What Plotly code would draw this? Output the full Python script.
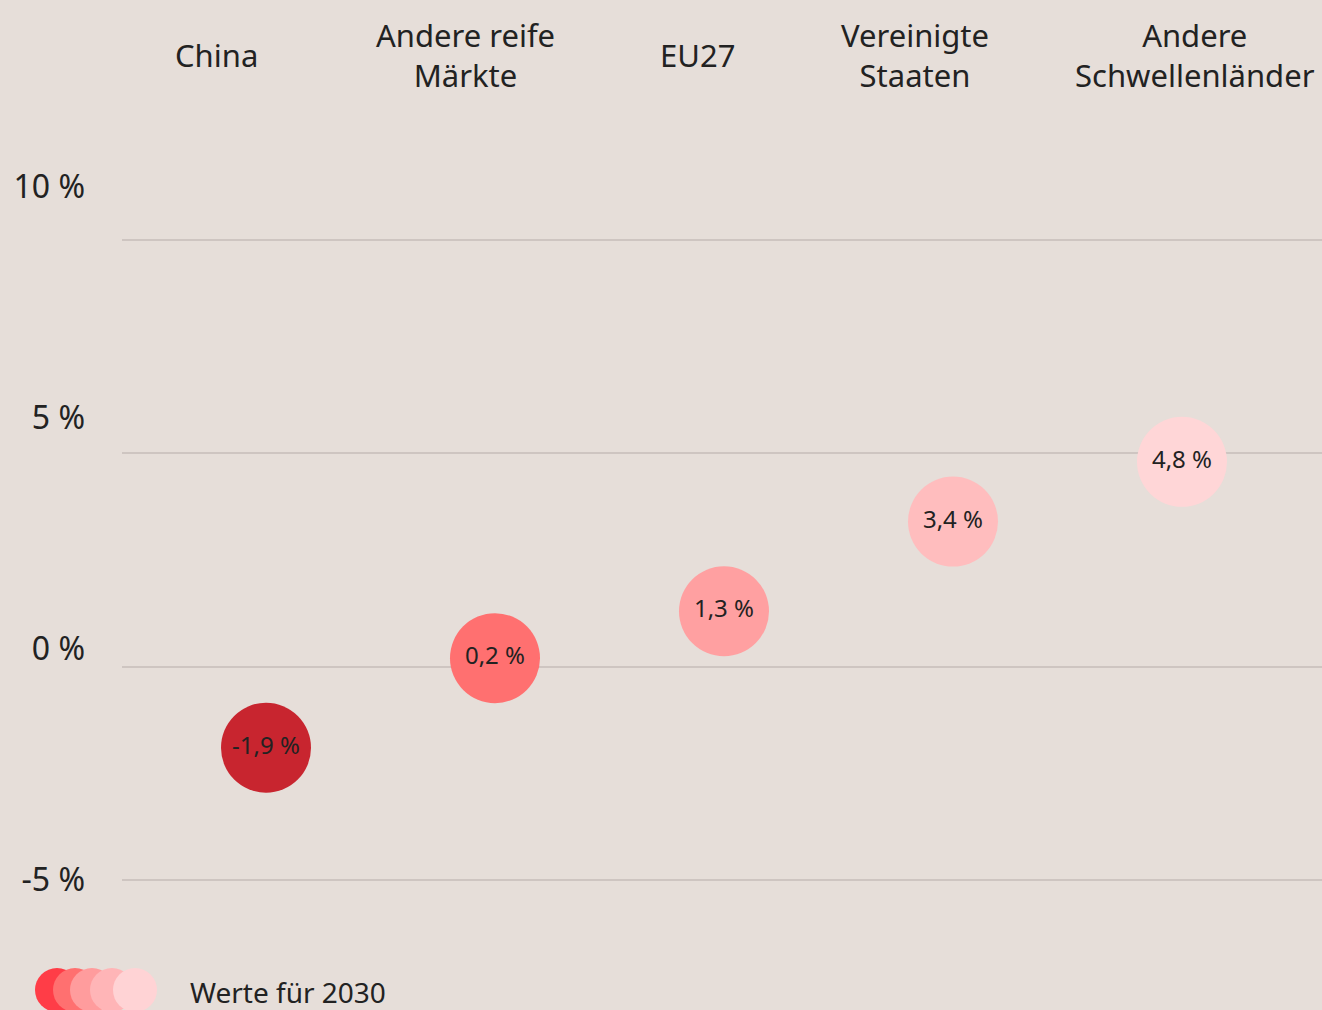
import plotly.graph_objects as go

# ---- data ----
categories = ["China", "Andere reife<br>Märkte", "EU27", "Vereinigte<br>Staaten", "Andere<br>Schwellenländer"]
values_2030 = [-1.9, 0.2, 1.3, 3.4, 4.8]
value_labels = ["-1,9 %", "0,2 %", "1,3 %", "3,4 %", "4,8 %"]
tick_values = [-5, 0, 5, 10]
tick_labels = ["-5 %", "0 %", "5 %", "10 %"]
legend_label = "Werte für 2030"

# ---- style ----
BG = "#E6DED9"
GRID = "#CEC5C1"
TEXT = "#222222"
FONT = "Noto Sans"
bubble_colors = ["#C8252F", "#FF7070", "#FFA0A1", "#FFBDBE", "#FFD6D7"]
legend_colors = ["#FF3D47", "#FF7070", "#FF9C9D", "#FFB5B7", "#FFD3D5"]
header_shift = [-50, -30, -27, -38, 13]

W, H = 1322, 1010
xs = list(range(len(categories)))

fig = go.Figure()
fig.add_trace(go.Scatter(
    x=xs, y=values_2030, mode="markers+text",
    marker=dict(size=90, color=bubble_colors, line=dict(width=0), opacity=1),
    text=value_labels, textposition="middle center",
    textfont=dict(family=FONT, size=24, color=TEXT),
    hoverinfo="skip", showlegend=False, cliponaxis=False,
))
# invisible trace to activate label axis
fig.add_trace(go.Scatter(x=[0], y=[0], yaxis="y2", mode="markers",
                         marker=dict(opacity=0), hoverinfo="skip", showlegend=False))

annotations = []
for i, (c, s) in enumerate(zip(categories, header_shift)):
    annotations.append(dict(
        x=i, xref="x", y=1 - 55 / H, yref="paper", text=c, showarrow=False,
        xshift=s, xanchor="center", yanchor="middle", align="center",
        font=dict(family=FONT, size=31, color=TEXT),
    ))
annotations.append(dict(
    x=0, xref="paper", y=0, yref="paper", text=legend_label, showarrow=False,
    xshift=66, yshift=18, xanchor="left", yanchor="middle",
    font=dict(family=FONT, size=28, color=TEXT),
))

shapes = []
legend_centers = [57, 75, 92, 112, 135]
for cx, col in zip(legend_centers, legend_colors):
    off = cx - 122
    shapes.append(dict(
        type="circle", xref="paper", yref="paper", xsizemode="pixel", ysizemode="pixel",
        xanchor=0, yanchor=0, x0=off - 22, x1=off + 22, y0=20 - 22, y1=20 + 22,
        fillcolor=col, line=dict(width=0), layer="above",
    ))

fig.update_layout(
    width=W, height=H,
    paper_bgcolor=BG, plot_bgcolor=BG,
    margin=dict(l=122, r=0, t=0, b=0, autoexpand=False),
    xaxis=dict(range=[-144 / 229, 4 + 140 / 229], showgrid=False, zeroline=False,
               showticklabels=False, showline=False, fixedrange=True),
    yaxis=dict(range=[-5 - 130 / 42.67, 10 + 240 / 42.67], tickvals=tick_values,
               showticklabels=False, showgrid=True, gridcolor=GRID, gridwidth=1.5,
               zeroline=False, showline=False),
    yaxis2=dict(range=[-5 - 130 / 46.2, 10 + 187 / 46.2], overlaying="y", side="left",
                tickvals=tick_values, ticktext=tick_labels, showgrid=False, zeroline=False,
                showline=False, ticklabelstandoff=36,
                tickfont=dict(family=FONT, size=32, color=TEXT)),
    annotations=annotations,
    shapes=shapes,
    showlegend=False,
)

fig.write_html(
    "out.html",
    config={"displayModeBar": False},
    post_script=(
        "document.documentElement.style.margin='0';"
        "document.body.style.margin='0';"
        "document.body.style.overflow='hidden';"
        f"document.body.style.background='{BG}';"
    ),
)
